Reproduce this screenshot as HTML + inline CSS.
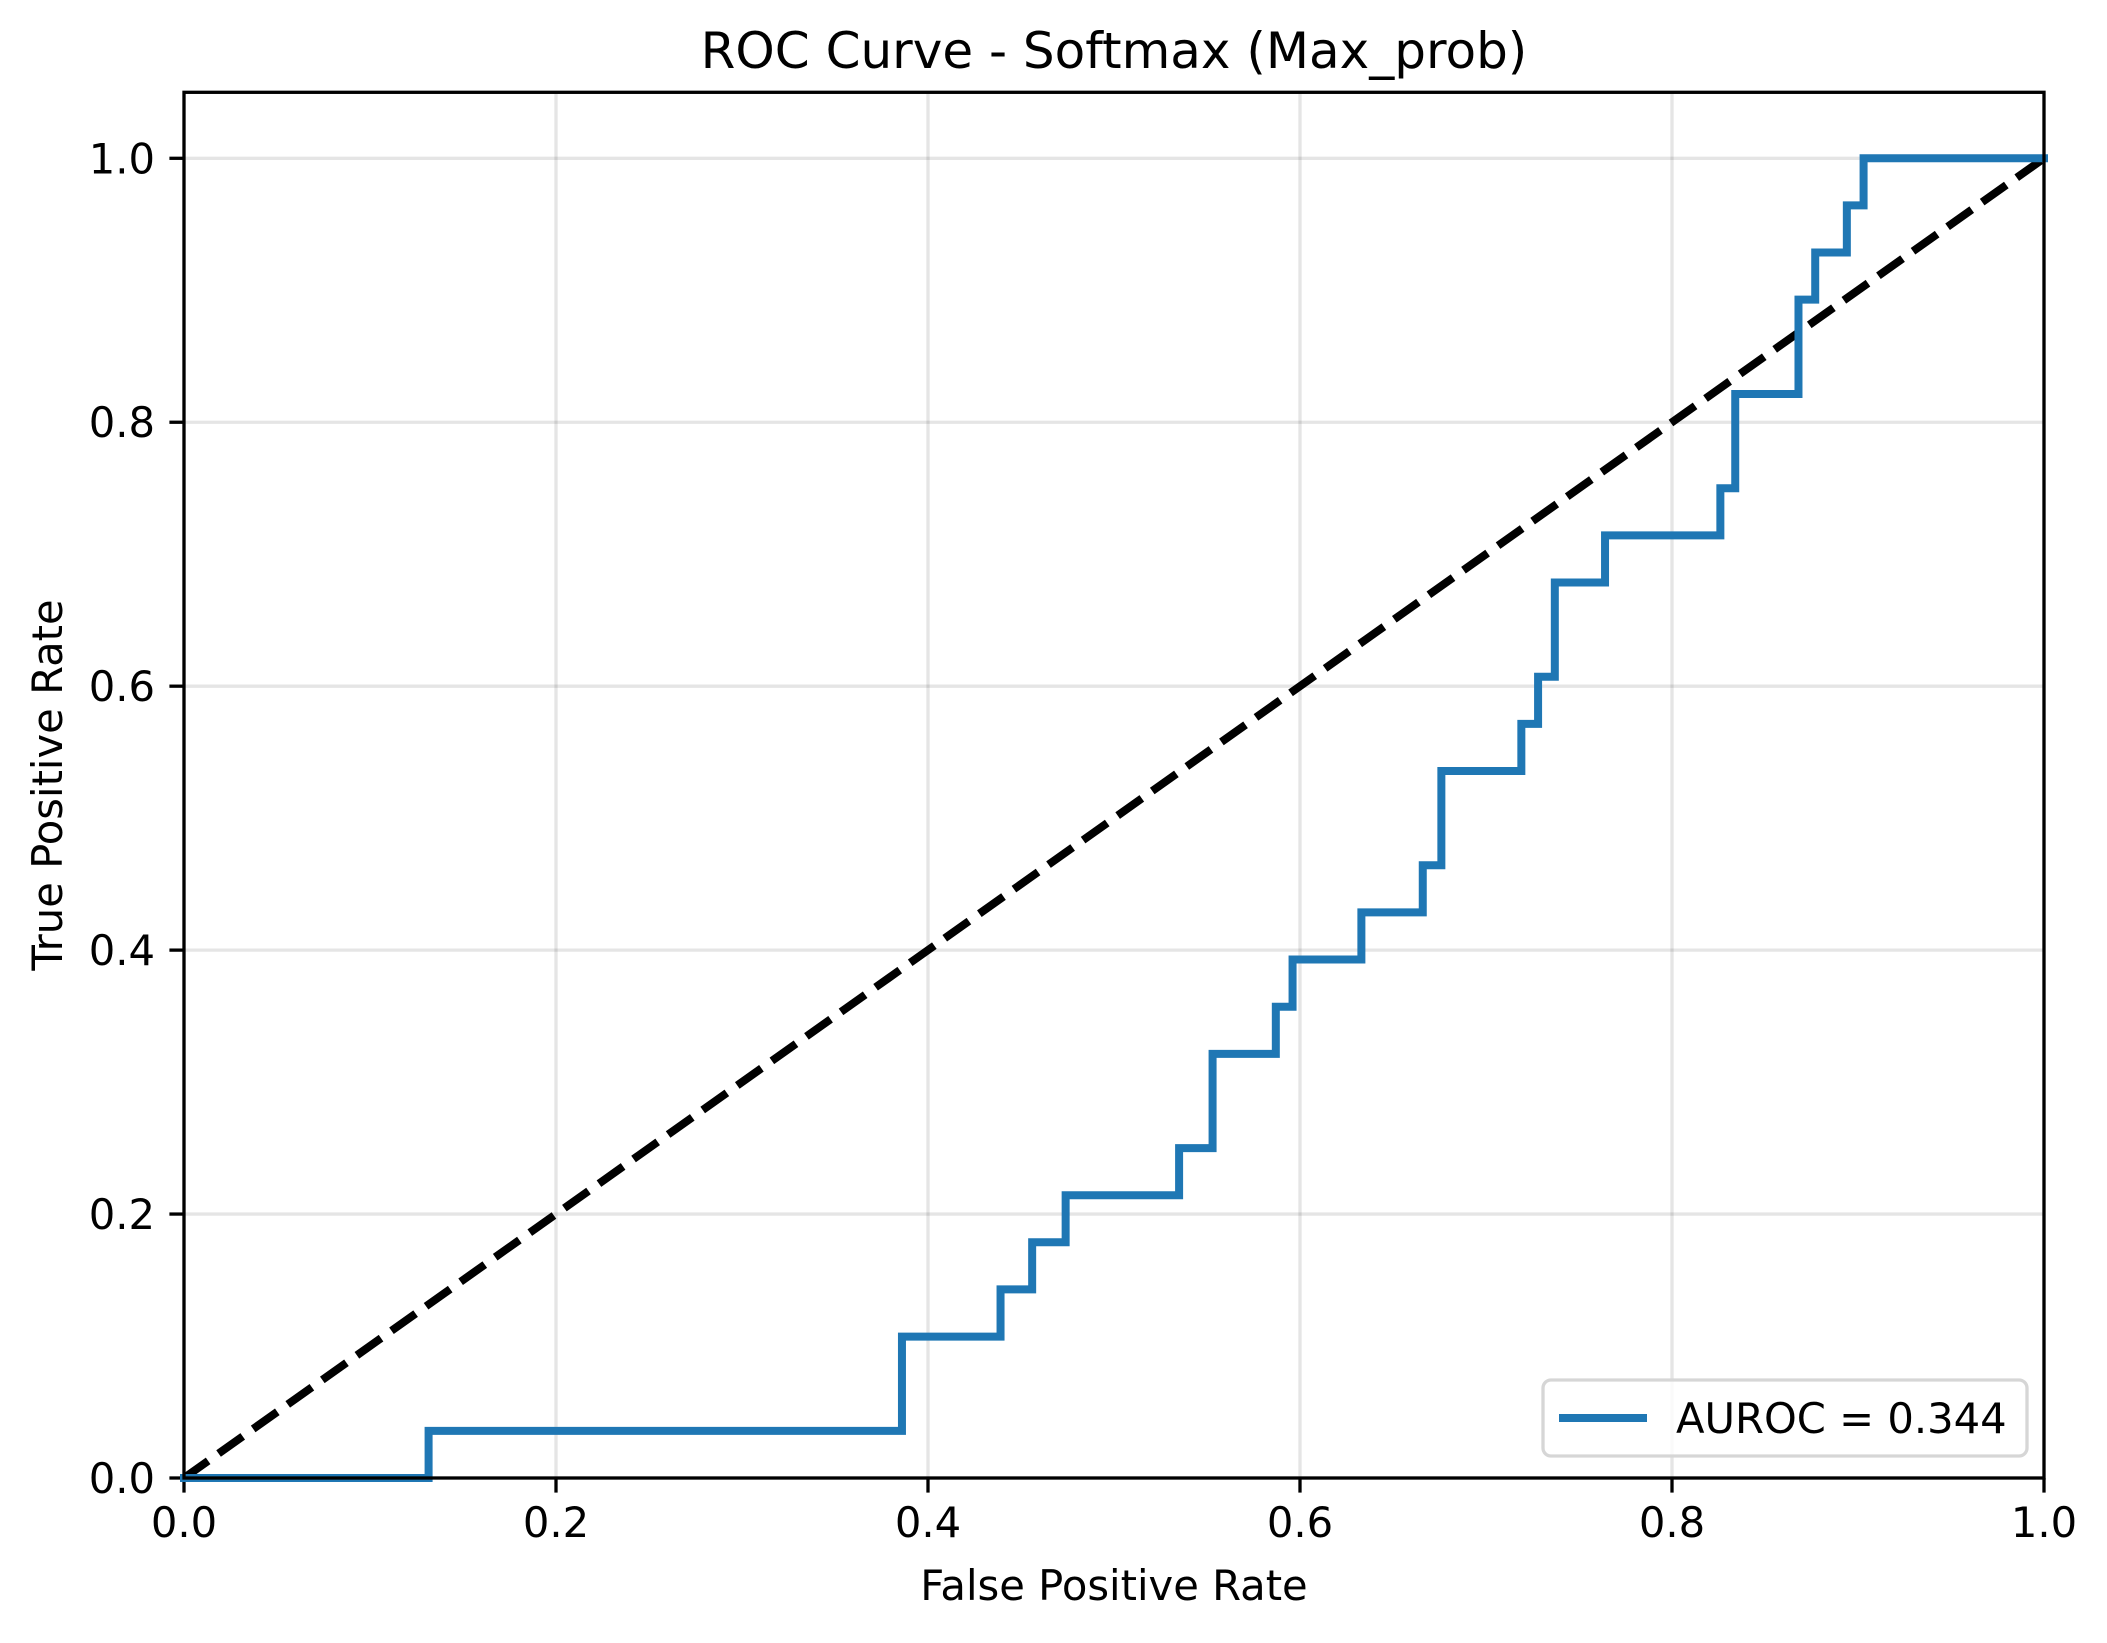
<!DOCTYPE html>
<html><head><meta charset="utf-8"><style>
html,body{margin:0;padding:0;background:#fff;}
svg text{font-family:"DejaVu Sans","Liberation Sans",sans-serif;fill:#000;}
</style></head><body>
<svg id="chart" width="2107" height="1638" viewBox="0 0 2107 1638" xmlns="http://www.w3.org/2000/svg">
<rect width="2107" height="1638" fill="#fff"/>
<g id="grid"></g>
<g id="ticks"></g>
<g id="series"></g>
<rect x="184" y="92.3" width="1860" height="1385.7" fill="none" stroke="#000" stroke-width="3.3"/>
<text x="1114" y="68" font-size="50" text-anchor="middle">ROC Curve - Softmax (Max_prob)</text>
<text x="1114" y="1600" font-size="41.7" text-anchor="middle">False Positive Rate</text>
<text x="0" y="0" font-size="41.7" text-anchor="middle" transform="translate(62,785) rotate(-90)">True Positive Rate</text>
<g>
<rect x="1543" y="1380" width="484" height="76" rx="8" fill="#fff" fill-opacity="0.8" stroke="#d6d6d6" stroke-width="3.3"/>
<line x1="1559" y1="1418" x2="1647" y2="1418" stroke="#1f77b4" stroke-width="8"/>
<text x="1676" y="1433" font-size="41.7">AUROC = 0.344</text>
</g>
</svg>
<script>
const fprSteps = [0, 0.1315, 0.386, 0.439, 0.456, 0.474, 0.535, 0.553, 0.587, 0.596, 0.633, 0.666, 0.676, 0.719, 0.728, 0.737, 0.764, 0.826, 0.834, 0.868, 0.877, 0.894, 0.903, 1.0];
const tprSteps = [0, 0.0357, 0.1071, 0.1429, 0.1786, 0.2143, 0.25, 0.3214, 0.3571, 0.3929, 0.4286, 0.4643, 0.5357, 0.5714, 0.6071, 0.6786, 0.7143, 0.75, 0.8214, 0.8929, 0.9286, 0.9643, 1.0, 1.0];
const xTicks = [0, 0.2, 0.4, 0.6, 0.8, 1.0];
const yTicks = [0, 0.2, 0.4, 0.6, 0.8, 1.0];
const xTickLabels = ["0.0","0.2","0.4","0.6","0.8","1.0"];
const yTickLabels = ["0.0","0.2","0.4","0.6","0.8","1.0"];
const NS="http://www.w3.org/2000/svg";
function X(v){return 184+v*1860;}
function Y(v){return 1478-v*1319.7;}
function mk(tag,attrs,parent){const e=document.createElementNS(NS,tag);for(const k in attrs)e.setAttribute(k,attrs[k]);parent.appendChild(e);return e;}
const grid=document.getElementById('grid'),ticks=document.getElementById('ticks'),series=document.getElementById('series');
xTicks.forEach((t,i)=>{
  const g=mk('line',{x1:X(t),x2:X(t),y1:92.3,y2:1478,stroke:'#000','stroke-opacity':0.1,'stroke-width':3.3},grid);
  
  
  const tk=mk('line',{x1:X(t),x2:X(t),y1:1478,y2:1492.6,stroke:'#000','stroke-width':3.3},ticks);
  
  
  const tx=mk('text',{x:X(t),y:1537,'font-size':41.7,'text-anchor':'middle'},ticks);
  tx.textContent=xTickLabels[i];
  
  
});
yTicks.forEach((t,i)=>{
  const g=mk('line',{x1:184,x2:2044,y1:Y(t),y2:Y(t),stroke:'#000','stroke-opacity':0.1,'stroke-width':3.3},grid);
  
  
  const tk=mk('line',{x1:169.4,x2:184,y1:Y(t),y2:Y(t),stroke:'#000','stroke-width':3.3},ticks);
  
  
  const tx=mk('text',{x:155,y:Y(t)+15,'font-size':41.7,'text-anchor':'end'},ticks);
  tx.textContent=yTickLabels[i];
  
  
});
const diag=mk('line',{x1:X(0),y1:Y(0),x2:X(1),y2:Y(1),stroke:'#000','stroke-width':8,'stroke-dasharray':'29.6 12.8'},series);


let d='M'+X(fprSteps[0])+','+Y(tprSteps[0]);
for(let i=1;i<fprSteps.length;i++){
  d+=' L'+X(fprSteps[i])+','+Y(tprSteps[i-1])+' L'+X(fprSteps[i])+','+Y(tprSteps[i]);
}
const roc=mk('path',{d:d,fill:'none',stroke:'#1f77b4','stroke-width':8,'stroke-linejoin':'miter','stroke-linecap':'square'},series);


</script>
</body></html>
